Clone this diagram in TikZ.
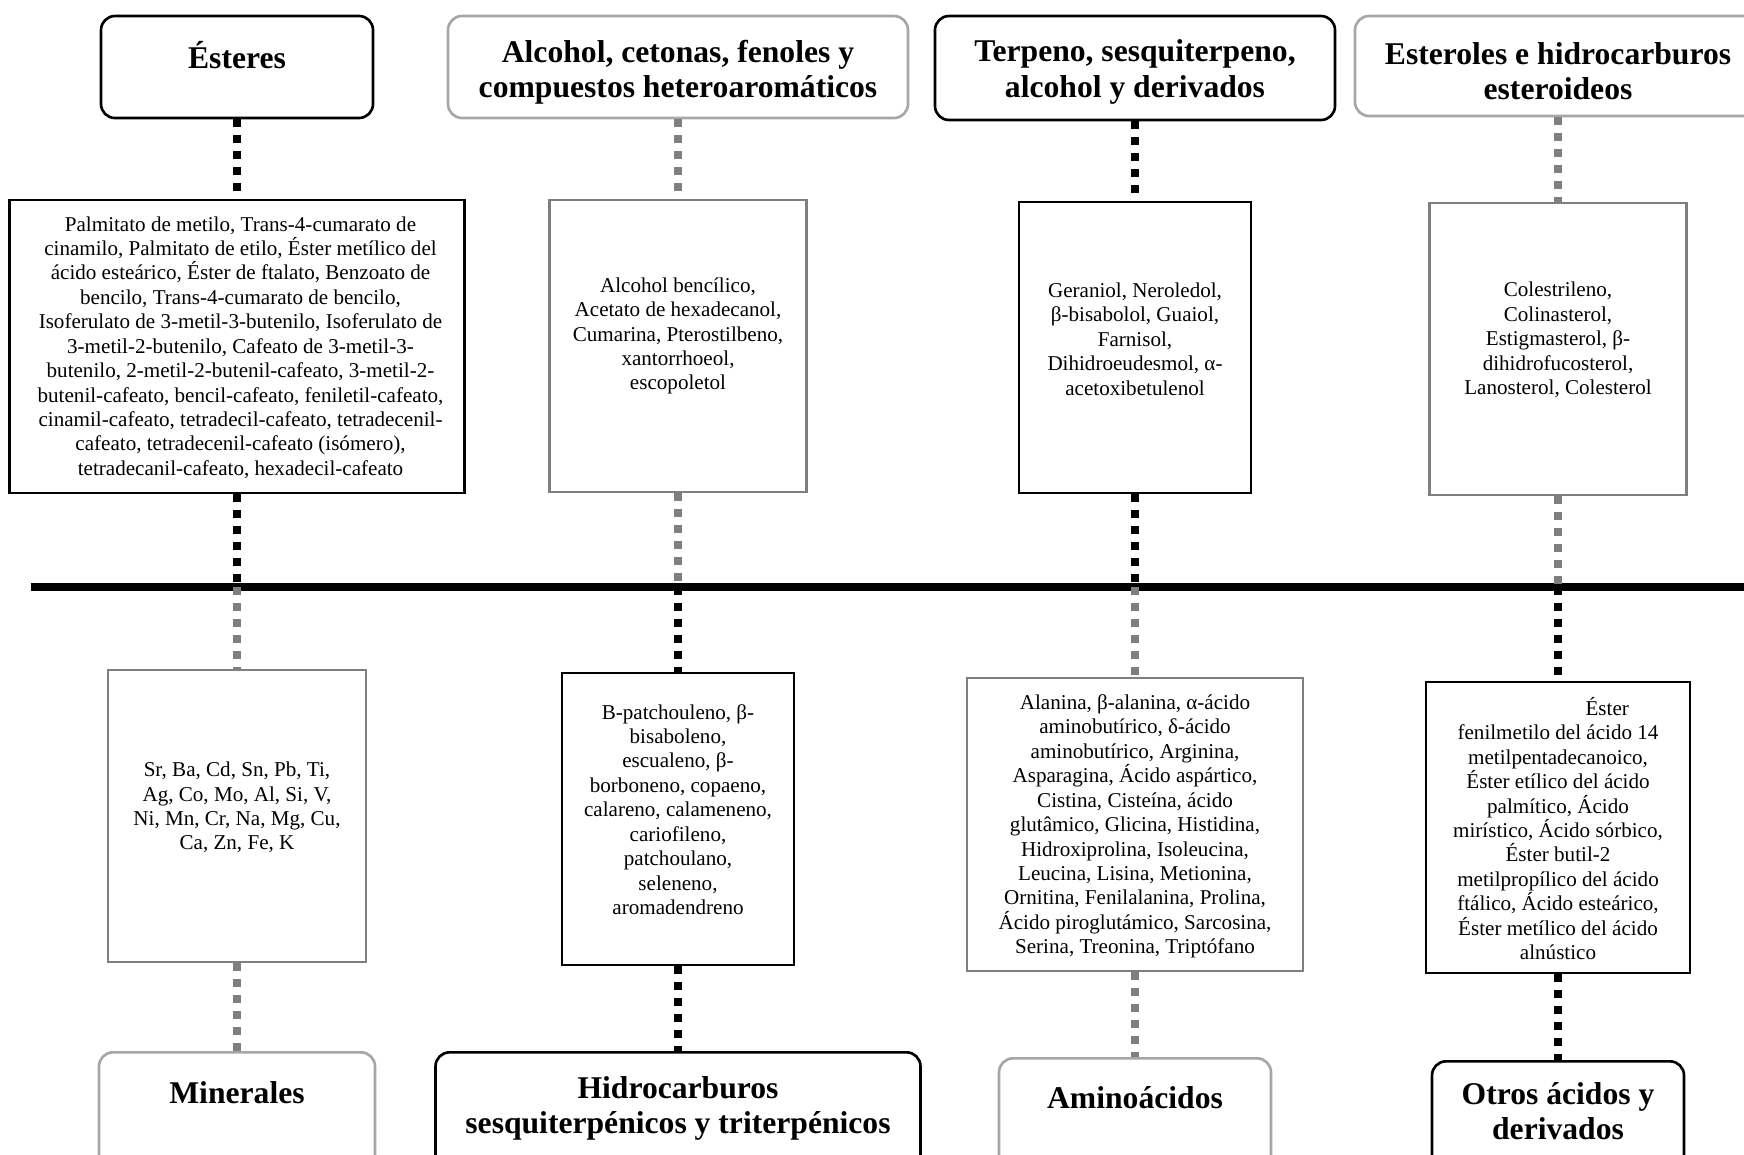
\documentclass[tikz,border=0pt]{standalone}
\usepackage{fontspec}
\setmainfont{Liberation Serif}
\definecolor{linegray}{HTML}{7F7F7F}
\definecolor{headgray}{HTML}{A6A6A6}
\tikzset{
  headbox/.style={rectangle, rounded corners=0.28cm, line width=1.5pt},
  headtxt/.style={align=center, inner sep=0pt, font=\fontsize{18}{20.2}\selectfont\bfseries},
  listbox/.style={rectangle, line width=1.2pt},
  listtxt/.style={align=center, inner sep=0pt, font=\fontsize{12}{13.9}\selectfont},
  blk/.style={draw=black},
  gry/.style={draw=headgray},
  lgry/.style={draw=linegray},
  dotblk/.style={draw=black, line width=0.15cm, dash pattern=on 0.16cm off 0.16cm},
  dotgry/.style={draw=linegray, line width=0.15cm, dash pattern=on 0.16cm off 0.16cm},
  axis/.style={draw=black, line width=0.16cm}
}
\begin{document}
\begin{tikzpicture}[y=-1cm]
  \useasboundingbox (0,0) rectangle (34.88,23.08);
  \clip (0,0) rectangle (34.88,23.08);

  \node[headbox, blk, minimum width=5.44cm, minimum height=2.04cm] (est) at (4.74,1.34) {};
  \node[headtxt] (estT) at (4.74,1.10) {Ésteres};
  \node[headbox, gry, minimum width=9.20cm, minimum height=2.04cm] (alc) at (13.56,1.34) {};
  \node[headtxt] (alcT) at (13.56,1.44) {Alcohol, cetonas, fenoles y\\compuestos heteroaromáticos};
  \node[headbox, blk, minimum width=8.00cm, minimum height=2.08cm] (ter) at (22.70,1.36) {};
  \node[headtxt] (terT) at (22.70,1.44) {Terpeno, sesquiterpeno,\\alcohol y derivados};
  \node[headbox, gry, minimum width=8.12cm, minimum height=2.00cm] (ste) at (31.16,1.32) {};
  \node[headtxt] (steT) at (31.16,1.42) {Esteroles e hidrocarburos\\esteroideos};

  \node[listbox, blk, minimum width=9.10cm, minimum height=5.86cm] (estL) at (4.74,6.93) {};
  \node[listtxt] (estLT) at (4.81,6.95) {Palmitato de metilo, Trans-4-cumarato de\\
    cinamilo, Palmitato de etilo, Éster metílico del\\
    ácido esteárico, Éster de ftalato, Benzoato de\\
    bencilo, Trans-4-cumarato de bencilo,\\
    Isoferulato de 3-metil-3-butenilo, Isoferulato de\\
    3-metil-2-butenilo, Cafeato de 3-metil-3-\\
    butenilo, 2-metil-2-butenil-cafeato, 3-metil-2-\\
    butenil-cafeato, bencil-cafeato, feniletil-cafeato,\\
    cinamil-cafeato, tetradecil-cafeato, tetradecenil-\\
    cafeato, tetradecenil-cafeato (isómero),\\
    tetradecanil-cafeato, hexadecil-cafeato};
  \node[listbox, lgry, minimum width=5.14cm, minimum height=5.84cm] (alcL) at (13.56,6.92) {};
  \node[listtxt] (alcLT) at (13.56,6.72) {Alcohol bencílico,\\Acetato de hexadecanol,\\
    Cumarina, Pterostilbeno,\\xantorrhoeol,\\escopoletol};
  \node[listbox, blk, minimum width=4.64cm, minimum height=5.82cm] (terL) at (22.70,6.95) {};
  \node[listtxt] (terLT) at (22.70,6.78) {Geraniol, Neroledol,\\β-bisabolol, Guaiol,\\
    Farnisol,\\Dihidroeudesmol, α-\\acetoxibetulenol};
  \node[listbox, lgry, minimum width=5.14cm, minimum height=5.84cm] (steL) at (31.16,6.98) {};
  \node[listtxt] (steLT) at (31.16,6.80) {Colestrileno,\\Colinasterol,\\
    Estigmasterol, β-\\dihidrofucosterol,\\Lanosterol, Colesterol};

  \coordinate (axL) at (0.62,11.74);
  \coordinate (axR) at (35.2,11.74);
  \draw[axis] (axL) -- (axR);
  \coordinate (c1) at (4.74,11.74);
  \coordinate (c2) at (13.56,11.74);
  \coordinate (c3) at (22.70,11.74);
  \coordinate (c4) at (31.16,11.74);

  \node[listbox, lgry, minimum width=5.16cm, minimum height=5.84cm] (minL) at (4.74,16.32) {};
  \node[listtxt] (minLT) at (4.74,16.15) {Sr, Ba, Cd, Sn, Pb, Ti,\\Ag, Co, Mo, Al, Si, V,\\
    Ni, Mn, Cr, Na, Mg, Cu,\\Ca, Zn, Fe, K};
  \node[listbox, blk, minimum width=4.64cm, minimum height=5.84cm] (hidL) at (13.56,16.38) {};
  \node[listtxt] (hidLT) at (13.56,16.19) {B-patchouleno, β-\\bisaboleno,\\escualeno, β-\\
    borboneno, copaeno,\\calareno, calameneno,\\cariofileno,\\patchoulano,\\seleneno,\\aromadendreno};
  \node[listbox, lgry, minimum width=6.72cm, minimum height=5.86cm] (amiL) at (22.70,16.49) {};
  \node[listtxt] (amiLT) at (22.70,16.53) {Alanina, β-alanina, α-ácido\\aminobutírico, δ-ácido\\
    aminobutírico, Arginina,\\Asparagina, Ácido aspártico,\\Cistina, Cisteína, ácido\\
    glutâmico, Glicina, Histidina,\\Hidroxiprolina, Isoleucina,\\Leucina, Lisina, Metionina,\\
    Ornitina, Fenilalanina, Prolina,\\Ácido piroglutámico, Sarcosina,\\Serina, Treonina, Triptófano};
  \node[listbox, blk, minimum width=5.28cm, minimum height=5.82cm] (otrL) at (31.16,16.55) {};
  \node[listtxt] (otrLT) at (31.16,16.57) {\hspace*{56pt}Éster\\fenilmetilo del ácido 14\\
    metilpentadecanoico,\\Éster etílico del ácido\\palmítico, Ácido\\mirístico, Ácido sórbico,\\
    Éster butil-2\\metilpropílico del ácido\\ftálico, Ácido esteárico,\\Éster metílico del ácido\\alnústico};

  \node[headbox, gry, anchor=north, minimum width=5.52cm, minimum height=2.6cm] (min) at (4.74,21.02) {};
  \node[headtxt] (minT) at (4.74,21.86) {Minerales};
  \node[headbox, blk, anchor=north, minimum width=9.70cm, minimum height=2.6cm] (hid) at (13.56,21.02) {};
  \node[headtxt] (hidT) at (13.56,22.17) {Hidrocarburos\\sesquiterpénicos y triterpénicos};
  \node[headbox, gry, anchor=north, minimum width=5.44cm, minimum height=2.6cm] (ami) at (22.70,21.14) {};
  \node[headtxt] (amiT) at (22.70,21.96) {Aminoácidos};
  \node[headbox, blk, anchor=north, minimum width=5.04cm, minimum height=2.6cm] (otr) at (31.16,21.20) {};
  \node[headtxt] (otrT) at (31.16,22.22) {Otros ácidos y\\derivados};

  \draw[dotblk] (est) -- (estL);
  \draw[dotblk] (estL) -- (c1);
  \draw[dotgry] (c1) -- (minL);
  \draw[dotgry] (minL) -- (min);
  \draw[dotgry] (alc) -- (alcL);
  \draw[dotgry] (alcL) -- (c2);
  \draw[dotblk] (c2) -- (hidL);
  \draw[dotblk] (hidL) -- (hid);
  \draw[dotblk] (ter) -- (terL);
  \draw[dotblk] (terL) -- (c3);
  \draw[dotgry] (c3) -- (amiL);
  \draw[dotgry] (amiL) -- (ami);
  \draw[dotgry] (ste) -- (steL);
  \draw[dotgry] (steL) -- (c4);
  \draw[dotblk] (c4) -- (otrL);
  \draw[dotblk] (otrL) -- (otr);
\end{tikzpicture}
\end{document}
